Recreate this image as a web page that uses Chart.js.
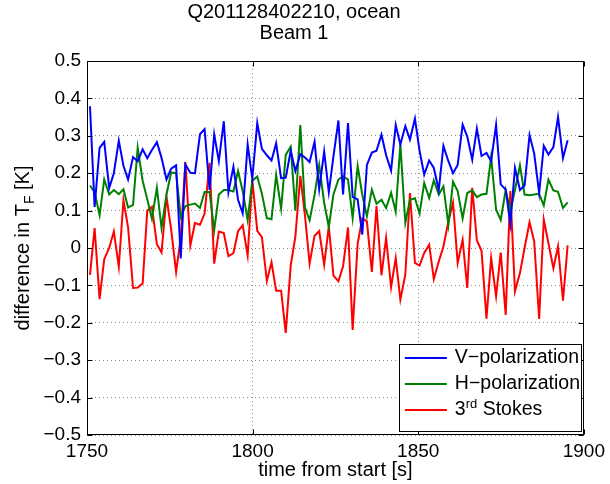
<!DOCTYPE html>
<html><head><meta charset="utf-8">
<script src="https://cdn.jsdelivr.net/npm/chart.js@4.4.0/dist/chart.umd.min.js"></script>
<style>html,body{margin:0;padding:0;background:#fff;}#wrap{width:610px;height:484px;position:relative;}</style>
</head><body><div id="wrap"><canvas id="c" width="610" height="484"></canvas></div>
<script>
const times = [1750.9,1752.3,1753.8,1755.2,1756.7,1758.1,1759.6,1761.0,1762.4,1763.9,
1765.3,1766.8,1768.2,1769.6,1771.1,1772.5,1774.0,1775.4,1776.9,1778.3,
1779.7,1781.2,1782.6,1784.1,1785.5,1787.0,1788.4,1789.8,1791.3,1792.7,
1794.2,1795.6,1797.0,1798.5,1799.9,1801.4,1802.8,1804.3,1805.7,1807.1,
1808.6,1810.0,1811.5,1812.9,1814.4,1815.8,1817.2,1818.7,1820.1,1821.6,
1823.0,1824.4,1825.9,1827.3,1828.8,1830.2,1831.7,1833.1,1834.5,1836.0,
1837.4,1838.9,1840.3,1841.8,1843.2,1844.6,1846.1,1847.5,1849.0,1850.4,
1851.8,1853.3,1854.7,1856.2,1857.6,1859.1,1860.5,1861.9,1863.4,1864.8,
1866.3,1867.7,1869.1,1870.6,1872.0,1873.5,1874.9,1876.4,1877.8,1879.2,
1880.7,1882.1,1883.6,1885.0,1886.5,1887.9,1889.3,1890.8,1892.2,1893.7,
1895.1];
const vPol = [0.379,0.11,0.268,0.284,0.16,0.2,0.287,0.22,0.183,0.243,
0.232,0.264,0.24,0.262,0.283,0.241,0.183,0.212,0.221,-0.028,
0.223,0.201,0.2,0.304,0.318,0.155,0.304,0.232,0.339,0.149,
0.217,0.129,0.093,0.277,0.185,0.334,0.265,0.248,0.234,0.28,
0.187,0.188,0.26,0.206,0.251,0.242,0.23,0.284,0.157,0.258,
0.149,0.245,0.341,0.143,0.334,0.137,0.13,0.036,0.222,0.255,
0.26,0.303,0.248,0.207,0.329,0.277,0.326,0.29,0.346,0.26,
0.196,0.234,0.214,0.155,0.273,0.232,0.2,0.222,0.33,0.298,
0.236,0.319,0.246,0.254,0.232,0.329,0.17,0.156,0.064,0.214,
0.155,0.167,0.302,0.253,0.147,0.273,0.25,0.27,0.35,0.24,
0.288];
const hPol = [0.167,0.149,0.088,0.183,0.143,0.155,0.144,0.157,0.108,0.115,
0.268,0.18,0.13,0.078,0.161,0.053,0.143,0.202,0.2,0.083,
0.112,0.116,0.119,0.107,0.15,0.15,0.048,0.143,0.155,0.155,
0.151,0.206,0.152,0.075,0.18,0.191,0.145,0.08,0.077,0.195,
0.105,0.249,0.271,0.1,0.329,0.108,0.074,0.142,0.222,0.121,
0.056,0.143,0.183,0.192,0.183,0.08,0.219,0.143,0.085,0.156,
0.118,0.129,0.107,0.148,0.097,0.277,0.067,0.129,0.133,0.092,
0.174,0.134,0.181,0.143,0.165,0.062,0.177,0.152,0.079,0.147,
0.154,0.136,0.143,0.145,0.243,0.103,0.075,0.155,0.1,0.155,
0.221,0.143,0.141,0.143,0.145,0.114,0.183,0.154,0.15,0.107,
0.122];
const stokes3 = [-0.072,0.053,-0.137,-0.03,0.0,0.044,-0.05,0.128,0.055,-0.107,
-0.106,-0.095,0.1,0.11,0.01,-0.012,0.137,0.05,-0.064,0.027,
0.23,0.007,0.067,0.062,0.092,0.228,-0.042,0.044,0.04,-0.022,
-0.014,0.045,0.061,-0.02,0.182,0.046,0.029,-0.088,-0.038,-0.114,
-0.114,-0.227,-0.047,0.03,0.193,0.087,-0.042,0.033,0.045,-0.045,
0.058,-0.074,-0.089,-0.049,0.055,-0.219,0.011,0.079,0.071,-0.064,
0.112,-0.073,0.027,-0.105,-0.027,-0.138,-0.071,0.147,-0.04,-0.047,
-0.013,0.009,-0.083,-0.036,0.004,0.071,0.121,-0.04,0.022,-0.107,
0.161,0.02,-0.007,-0.189,-0.027,-0.129,-0.012,-0.179,0.152,-0.116,
-0.067,0.0,0.069,0.018,-0.19,0.076,0.013,-0.054,0.004,-0.141,
0.007];
const seriesNames = ['V\u2212polarization', 'H\u2212polarization', '3rd Stokes'];
const seriesColors = ['#0000ff', '#008000', '#ff0000'];
const xTicks = [1750, 1800, 1850, 1900];
const yTicks = [-0.5, -0.4, -0.3, -0.2, -0.1, 0, 0.1, 0.2, 0.3, 0.4, 0.5];
const titleLines = ['Q201128402210, ocean', 'Beam 1'];
const xTitle = 'time from start [s]';
const yTitleParts = ['difference in T', 'F', ' [K]'];

const FONT = "'Liberation Sans', Arial, Helvetica, sans-serif";
const seriesValues = [vPol, hPol, stokes3];

function fmtY(v) {
  if (Math.abs(v) < 1e-9) return '0';
  return (v < 0 ? '\u2212' : '') + Math.abs(v).toFixed(1);
}

const framePlugin = {
  id: 'frame',
  afterDraw(chart) {
    const ctx = chart.ctx, a = chart.chartArea, xs = chart.scales.x, ys = chart.scales.y;
    ctx.save();
    ctx.strokeStyle = '#000';
    ctx.lineWidth = 1;
    const L = Math.round(a.left) + 0.5, T = Math.round(a.top) + 0.5;
    const R = Math.round(a.right) - 0.5, B = Math.round(a.bottom) - 0.5;
    ctx.strokeRect(L, T, R - L, B - T);
    const tl = 5;
    ctx.beginPath();
    xTicks.forEach(v => {
      const px = Math.round(xs.getPixelForValue(v)) + 0.5;
      ctx.moveTo(px, B); ctx.lineTo(px, B - tl);
      ctx.moveTo(px, T); ctx.lineTo(px, T + tl);
    });
    yTicks.forEach(v => {
      const py = Math.round(ys.getPixelForValue(v)) + 0.5;
      ctx.moveTo(L, py); ctx.lineTo(L + tl, py);
      ctx.moveTo(R, py); ctx.lineTo(R - tl, py);
    });
    ctx.stroke();

    // y axis title with subscript
    ctx.fillStyle = '#000';
    ctx.textBaseline = 'alphabetic';
    const big = '20px ' + FONT, small = '14px ' + FONT;
    ctx.font = big; const w1 = ctx.measureText(yTitleParts[0]).width;
    ctx.font = small; const w2 = ctx.measureText(yTitleParts[1]).width;
    ctx.font = big; const w3 = ctx.measureText(yTitleParts[2]).width;
    const tot = w1 + w2 + w3;
    ctx.save();
    ctx.translate(29, (a.top + a.bottom) / 2);
    ctx.rotate(-Math.PI / 2);
    let sx = -tot / 2;
    ctx.font = big; ctx.fillText(yTitleParts[0], sx, 0); sx += w1;
    ctx.font = small; ctx.fillText(yTitleParts[1], sx, 5); sx += w2;
    ctx.font = big; ctx.fillText(yTitleParts[2], sx, 0);
    ctx.restore();

    // legend
    const lx = a.right - 185, ly = a.bottom - 91, lw = 182, lh = 87;
    ctx.fillStyle = '#fff';
    ctx.fillRect(Math.round(lx) + 0.5, Math.round(ly) + 0.5, lw, lh);
    ctx.strokeStyle = '#000';
    ctx.lineWidth = 1;
    ctx.strokeRect(Math.round(lx) + 0.5, Math.round(ly) + 0.5, lw, lh);
    const rows = [ly + 14, ly + 40, ly + 66];
    ctx.textBaseline = 'middle';
    const lf = '19.5px ' + FONT;
    for (let i = 0; i < 3; i++) {
      ctx.strokeStyle = seriesColors[i];
      ctx.lineWidth = 2;
      ctx.beginPath();
      ctx.moveTo(lx + 6, rows[i]); ctx.lineTo(lx + 48, rows[i]);
      ctx.stroke();
      ctx.fillStyle = '#000';
      const tx = lx + 56;
      if (i < 2) {
        ctx.font = lf;
        ctx.fillText(seriesNames[i], tx, rows[i]);
      } else {
        ctx.font = lf;
        ctx.fillText('3', tx, rows[i]);
        const d = ctx.measureText('3').width;
        ctx.font = '13px ' + FONT;
        ctx.fillText('rd', tx + d, rows[i] - 6);
        const e = ctx.measureText('rd').width;
        ctx.font = lf;
        ctx.fillText(' Stokes', tx + d + e, rows[i]);
      }
    }
    ctx.restore();
  }
};

const datasets = seriesValues.map((vals, i) => ({
  label: seriesNames[i],
  data: times.map((t, j) => ({ x: t, y: vals[j] })),
  borderColor: seriesColors[i],
  backgroundColor: seriesColors[i],
  borderWidth: 2,
  pointRadius: 0,
  tension: 0,
  fill: false
}));

new Chart(document.getElementById('c'), {
  type: 'line',
  data: { datasets },
  plugins: [framePlugin],
  options: {
    responsive: false,
    animation: false,
    devicePixelRatio: 1,
    layout: { padding: { left: 0, right: 22, top: 0, bottom: 0 } },
    plugins: {
      legend: { display: false },
      tooltip: { enabled: false },
      title: {
        display: true,
        text: titleLines,
        color: '#000',
        font: { family: FONT, size: 20, weight: 'normal', lineHeight: 1.05 },
        padding: { top: 2, bottom: 17 }
      }
    },
    scales: {
      x: {
        type: 'linear',
        min: 1750, max: 1900,
        afterBuildTicks: s => { s.ticks = xTicks.map(v => ({ value: v })); },
        afterFit: s => { s.height = 49; },
        ticks: { color: '#000', font: { family: FONT, size: 19 }, padding: 5, maxRotation: 0, callback: v => String(v) },
        grid: { color: '#8c8c8c', lineWidth: 1, drawTicks: false },
        border: { display: false, dash: [1, 3] },
        title: { display: true, text: xTitle, color: '#000', font: { family: FONT, size: 20 }, padding: { top: 0, bottom: 2 } }
      },
      y: {
        type: 'linear',
        min: -0.5, max: 0.5,
        afterBuildTicks: s => { s.ticks = yTicks.map(v => ({ value: v })); },
        afterFit: s => { s.width = 87; },
        ticks: { color: '#000', font: { family: FONT, size: 19 }, padding: 6, callback: v => fmtY(v) },
        grid: { color: '#8c8c8c', lineWidth: 1, drawTicks: false },
        border: { display: false, dash: [1, 3] }
      }
    }
  }
});
</script>
</body></html>
